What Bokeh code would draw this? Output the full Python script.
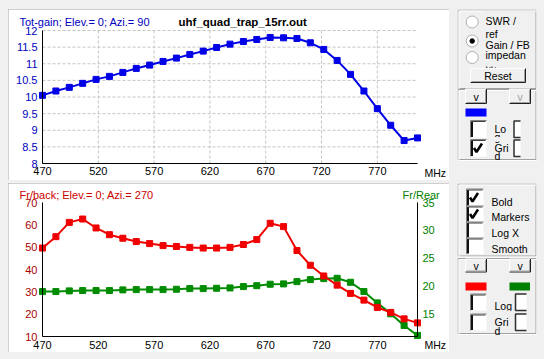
from bokeh.plotting import figure
from bokeh.models import Range1d, LinearAxis, FixedTicker, Label, Spacer
from bokeh.layouts import row, column
from bokeh.embed import file_html
from bokeh.resources import INLINE
from bokeh.core.properties import value

# ---------------- data ----------------
freq_mhz = [470, 482, 494, 506, 518, 530, 542, 554, 566, 578, 590, 602, 614, 626, 638,
            650, 662, 674, 686, 698, 710, 722, 734, 746, 758, 770, 782, 794, 806]
tot_gain = [10.05, 10.18, 10.29, 10.41, 10.53, 10.62, 10.74, 10.86, 10.96, 11.07, 11.17,
            11.28, 11.38, 11.49, 11.59, 11.67, 11.73, 11.79, 11.78, 11.76, 11.63, 11.43,
            11.10, 10.68, 10.18, 9.65, 9.15, 8.69, 8.77]
fr_back = [49.6, 54.7, 61.1, 62.6, 58.6, 55.6, 54.0, 52.5, 51.6, 50.7, 50.3, 49.9, 49.6,
           49.6, 49.9, 51.2, 53.4, 60.7, 59.2, 48.5, 41.9, 37.1, 33.0, 29.3, 26.3, 23.0,
           20.8, 17.9, 16.1]
fr_rear = [19.05, 19.05, 19.17, 19.23, 19.23, 19.23, 19.35, 19.40, 19.40, 19.40, 19.46,
           19.58, 19.58, 19.64, 19.70, 19.94, 20.10, 20.36, 20.42, 20.83, 21.19, 21.37,
           21.43, 20.71, 19.05, 17.02, 15.06, 12.98, 11.19]

x_ticks = [470, 520, 570, 620, 670, 720, 770]
x_bounds = (470, 806)
gain_ticks = [8, 8.5, 9, 9.5, 10, 10.5, 11, 11.5, 12]
gain_tick_labels = ["8", "8.5", "9", "9.5", "10", "10.5", "11", "11.5", "12"]
gain_bounds = (8, 12)
fb_ticks = [10, 20, 30, 40, 50, 60, 70]
fb_bounds = (10, 70)
fr_ticks = [15, 20, 25, 30, 35]
fr_bounds = (11, 35)

title_gain = "Tot-gain; Elev.= 0; Azi.= 90"
title_file = "uhf_quad_trap_15rr.out"
title_fb = "Fr/back; Elev.= 0; Azi.= 270"
title_fr = "Fr/Rear"
unit_label = "MHz"

# ---------------- styles / geometry ----------------
FONT = "Liberation Sans"
BG = "#f0f0f0"
BLUE_LINE, BLUE_TXT = "#0000e6", "#0000c0"
RED_LINE, RED_TXT, RED_TICK = "#f00000", "#cc0000", "#a80000"
GREEN_LINE, GREEN_TXT = "#008c00", "#008000"
PANEL_FONT_SIZE = "10.5px"

CHART_W = 441
PLOT_L, PLOT_R = 34, 409          # axis area inside a chart canvas (pixels)
FRAME_STYLE = {"outline": "1px solid #a0a0a0", "outline-offset": "-1px"}


def span(lo, hi, px_lo, px_hi, total):
    """range whose [lo, hi] maps to canvas pixels [px_lo, px_hi] of a canvas of size total"""
    k = (hi - lo) / (px_hi - px_lo)
    return (lo - px_lo * k, hi + (total - px_hi) * k)


def style_axis(ax, color="black", standoff=4):
    ax.major_tick_out = 0
    ax.major_tick_in = 0
    ax.minor_tick_out = 0
    ax.minor_tick_in = 0
    ax.axis_line_color = "black"
    ax.axis_line_width = 1
    ax.major_label_text_font = FONT
    ax.major_label_text_font_size = "11px"
    ax.major_label_text_color = color
    ax.major_label_standoff = standoff


def chart(height, y_bounds, top_px, bottom_px):
    xs, xe = span(x_bounds[0], x_bounds[1], PLOT_L, PLOT_R, CHART_W)
    ys, ye = span(y_bounds[0], y_bounds[1], height - bottom_px, height - top_px, height)
    p = figure(width=CHART_W, height=height, x_range=Range1d(xs, xe),
               y_range=Range1d(ys, ye), output_backend="svg", toolbar_location=None,
               x_axis_location=None, y_axis_location=None, min_border=0,
               styles=FRAME_STYLE)
    p.grid.visible = False
    p.outline_line_color = None
    p.background_fill_color = "white"
    p.border_fill_color = "white"
    xa = LinearAxis(ticker=FixedTicker(ticks=x_ticks), fixed_location=y_bounds[0],
                    bounds=x_bounds)
    style_axis(xa, "black", 3)
    p.add_layout(xa, "below")
    return p


def txt(p, x, y, text, color="black", size="11px", style="normal", baseline="alphabetic"):
    p.add_layout(Label(x=x, y=y, x_units="screen", y_units="screen", text=text,
                       text_font=FONT, text_font_size=size, text_color=color,
                       text_font_style=style, text_baseline=baseline))


# ---------------- top chart: gain (page x 8..449, y 9..180) ----------------
H1 = 171
p1 = chart(H1, gain_bounds, 30 - 9, 163 - 9)
ya = LinearAxis(ticker=FixedTicker(ticks=gain_ticks), fixed_location=x_bounds[0],
                bounds=gain_bounds)
ya.major_label_overrides = {t: l for t, l in zip(gain_ticks, gain_tick_labels)}
style_axis(ya, BLUE_TXT, 5)
p1.add_layout(ya, "left")
p1.segment(x0=x_ticks, y0=[gain_bounds[0]] * len(x_ticks), x1=x_ticks,
           y1=[gain_bounds[1]] * len(x_ticks), line_color="#c4c4c4", line_dash="3 2")
p1.segment(x0=[x_bounds[0]] * len(gain_ticks), y0=gain_ticks,
           x1=[x_bounds[1]] * len(gain_ticks), y1=gain_ticks, line_color="#c4c4c4",
           line_dash="3 2")
p1.line(freq_mhz, tot_gain, line_color=BLUE_LINE, line_width=2)
p1.scatter(freq_mhz, tot_gain, marker="square", size=6, fill_color=BLUE_LINE,
           line_color=BLUE_LINE)
# screen units: x from canvas left (page x - 8), y from canvas bottom (180 - page y)
txt(p1, 19 - 8, 180 - 21.5, title_gain, BLUE_TXT)
txt(p1, 178 - 8, 180 - 21, title_file, "black", "11.5px", "bold")
txt(p1, 424 - 8, 180 - 172.5, unit_label, size="10.5px", baseline="middle")

# ---------------- bottom chart: F/B and F/R (page x 8..449, y 183..352) ----------------
H2 = 169
p2 = chart(H2, fb_bounds, 202 - 183, 336 - 183)
p2.xaxis[0].major_label_standoff = 4
la = LinearAxis(ticker=FixedTicker(ticks=fb_ticks), fixed_location=x_bounds[0],
                bounds=fb_bounds)
style_axis(la, RED_TICK, 5)
p2.add_layout(la, "left")
rs, re_ = span(fr_bounds[0], fr_bounds[1], H2 - (336 - 183), H2 - (202 - 183), H2)
p2.extra_y_ranges = {"rear": Range1d(rs, re_)}
ra = LinearAxis(y_range_name="rear", ticker=FixedTicker(ticks=fr_ticks),
                fixed_location=x_bounds[1], bounds=fr_bounds)
style_axis(ra, GREEN_TXT, 5)
p2.add_layout(ra, "right")
p2.line(freq_mhz, fr_rear, line_color=GREEN_LINE, line_width=2, y_range_name="rear")
p2.scatter(freq_mhz, fr_rear, marker="square", size=6, fill_color=GREEN_LINE,
           line_color=GREEN_LINE, y_range_name="rear")
p2.line(freq_mhz, fr_back, line_color=RED_LINE, line_width=2)
p2.scatter(freq_mhz, fr_back, marker="square", size=6, fill_color=RED_LINE,
           line_color=RED_LINE)
txt(p2, 19 - 8, 352 - 194.5, title_fb, RED_TXT)
txt(p2, 402 - 8, 352 - 194.5, title_fr, GREEN_TXT)
txt(p2, 424 - 8, 352 - 344.5, unit_label, size="10.5px", baseline="middle")


# ---------------- right-hand control panels (decoration, page coordinates) -------------
def panel(height, ytop, ybot):
    q = figure(width=80, height=height, x_range=Range1d(457, 537),
               y_range=Range1d(ybot, ytop), output_backend="svg", toolbar_location=None,
               x_axis_location=None, y_axis_location=None, min_border=0)
    q.grid.visible = False
    q.outline_line_color = None
    q.background_fill_color = BG
    q.border_fill_color = BG
    return q


def group_box(q, y0, y1):
    q.quad(left=457.5, right=535.5, top=y0, bottom=y1, fill_color=None,
           line_color="#a0a0a0", line_width=1)
    q.quad(left=458.5, right=536.5, top=y0 + 1, bottom=y1 + 1, fill_color=None,
           line_color="white", line_width=1)


def button(q, x0, x1, y0, y1, label, color="black"):
    q.quad(left=x0, right=x1, top=y0, bottom=y1, fill_color=BG, line_color=None)
    q.line([x0, x0, x1], [y1, y0, y0], line_color="white", line_width=1)
    q.line([x0, x1, x1], [y1, y1, y0], line_color="#202020", line_width=1)
    q.line([x0 + 1, x1 - 1, x1 - 1], [y1 - 1, y1 - 1, y0 + 1], line_color="#a0a0a0",
           line_width=1)
    q.text(x=[(x0 + x1) / 2], y=[(y0 + y1) / 2 + 0.5], text=[label], text_color=color,
           text_font=value(FONT), text_font_size=PANEL_FONT_SIZE, text_align="center",
           text_baseline="middle")


def checkbox(q, x0, x1, y0, y1, checked=False):
    q.quad(left=x0, right=x1, top=y0, bottom=y1, fill_color="white", line_color=None)
    q.line([x0, x0, x1], [y1, y0, y0], line_color="#808080", line_width=1)
    q.line([x0 + 1.5, x0 + 1.5], [y1 - 0.5, y0 + 1], line_color="#101010", line_width=2)
    q.line([x0 + 1, x1 - 1], [y0 + 1, y0 + 1], line_color="#404040", line_width=1)
    if checked:
        ym = (y0 + y1) / 2
        q.line([x0 + 3.5, x0 + 6, x0 + 11.5], [ym, ym + 4, ym - 4.5], line_color="black",
               line_width=2.5)


def half_box(q, x0, x1, y0, y1):
    q.quad(left=x0 + 1, right=x1, top=y0, bottom=y1, fill_color="white", line_color=None)
    q.line([x1, x0, x0, x1], [y0, y0, y1, y1], line_color="#303030", line_width=1.5)


def label(q, xs, ys, texts, color="black"):
    q.text(x=xs, y=ys, text=texts, text_color=color, text_font=value(FONT),
           text_font_size=PANEL_FONT_SIZE, text_baseline="alphabetic")


def cover(q, x0, x1, y0, y1):
    q.quad(left=x0, right=x1, top=y0, bottom=y1, fill_color=BG, line_color=None)


q1 = panel(H1, 9, 180)
group_box(q1, 9.5, 88)
group_box(q1, 89, 159)
q1.scatter([471.7, 471.7, 471.7], [21.5, 40.5, 57], marker="circle", size=12,
           fill_color="white", line_color="#b0b0b0")
q1.scatter([471.7], [40.5], marker="circle", size=4.5, fill_color="black",
           line_color="black")
label(q1, [485, 485, 485, 485, 485], [20, 33, 44, 54.5, 64.5],
      ["SWR /", "ref", "Gain / FB", "impedan", "ce"])
cover(q1, 483, 534, 10.6, 12.8)
cover(q1, 483, 534, 61.5, 66)
button(q1, 470, 525, 68, 82, "Reset")
button(q1, 465, 486, 88.5, 103, "v")
button(q1, 509, 530, 88.5, 103, "v", "#a0a0a0")
q1.quad(left=465, right=486, top=108, bottom=116, fill_color="#0000ff", line_color=None)
checkbox(q1, 470, 486, 120, 137)
checkbox(q1, 470, 486, 139, 156, checked=True)
label(q1, [494, 494, 494, 494], [128.5, 136, 147, 155], ["Lo", "g", "Gri", "d"])
cover(q1, 492, 510, 136.6, 141)
half_box(q1, 513.5, 520, 120.5, 137)
half_box(q1, 513.5, 520, 139.5, 156)

q2 = panel(H2, 183, 352)
group_box(q2, 183.5, 255.5)
group_box(q2, 258, 333)
checkbox(q2, 466, 483, 188.5, 205.5, checked=True)
checkbox(q2, 466, 483, 205.5, 221.5, checked=True)
checkbox(q2, 466, 483, 221.5, 237.5)
checkbox(q2, 466, 483, 237.5, 253.5)
label(q2, [491, 491, 491, 491], [201, 216.5, 232.5, 248.5],
      ["Bold", "Markers", "Log X", "Smooth"])
button(q2, 465, 486, 258.5, 271.5, "v")
button(q2, 509, 530, 258.5, 271.5, "v")
q2.quad(left=465, right=486, top=282, bottom=290, fill_color="#ff0000", line_color=None)
q2.quad(left=509, right=529.5, top=282, bottom=290, fill_color="#008000", line_color=None)
checkbox(q2, 470, 486, 293.5, 310)
checkbox(q2, 470, 486, 313.5, 330)
label(q2, [494, 494, 494], [305, 321, 330], ["Log", "Gri", "d"])
cover(q2, 492, 512, 310.5, 315)
half_box(q2, 515, 526, 293.5, 310)
half_box(q2, 515, 526, 313.5, 330)

G = {"background-color": BG}
layout = column(
    Spacer(width=544, height=9, styles=G),
    row(Spacer(width=8, height=H1), p1, Spacer(width=8, height=H1), q1,
        Spacer(width=7, height=H1), styles=G),
    Spacer(width=544, height=3, styles=G),
    row(Spacer(width=8, height=H2), p2, Spacer(width=8, height=H2), q2,
        Spacer(width=7, height=H2), styles=G),
    Spacer(width=544, height=7, styles=G),
    styles=G,
)

open("out.html", "w").write(file_html(layout, INLINE))
